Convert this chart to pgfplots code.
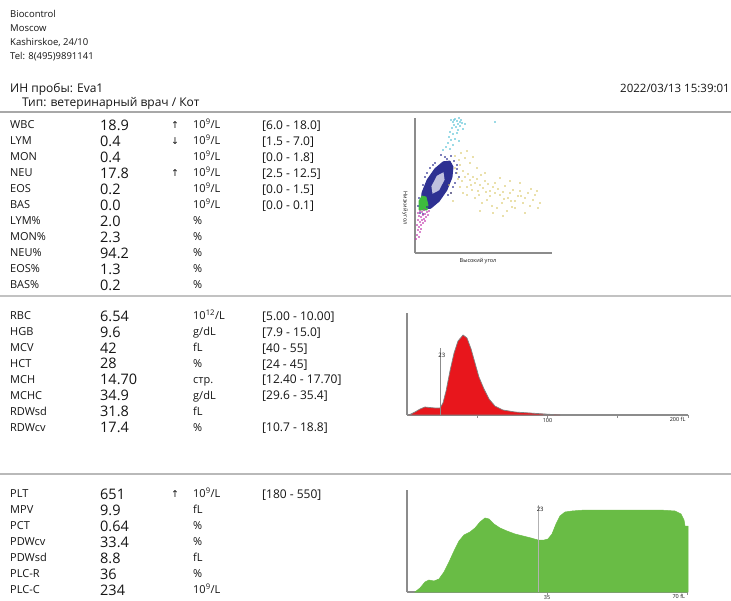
\documentclass[border=0pt]{standalone}
\usepackage{pgfplots}
\pgfplotsset{compat=1.18}
\usepackage{fontspec}
\setmainfont{Open Sans}
\newfontfamily\arr{DejaVu Sans}
\definecolor{axgray}{HTML}{8C8C8C}
\definecolor{sep}{HTML}{A8A8A8}
\definecolor{rbcred}{HTML}{E8161C}
\definecolor{pltgreen}{HTML}{69BC45}
\definecolor{scblue}{HTML}{2E3192}
\definecolor{sccyan}{HTML}{5CC4D8}
\definecolor{scyellow}{HTML}{D8C45C}
\definecolor{scmag}{HTML}{C23AAE}
\definecolor{scgreen}{HTML}{3DBB3D}
\definecolor{txt}{HTML}{151515}
\newcommand{\T}[4]{\node[anchor=base west,inner sep=0pt,text=txt,font=#3] at ({#1*1pt},{-(#2)*1pt}) {#4};}
\newcommand{\fhd}{\fontsize{9.5}{11}\selectfont}
\newcommand{\fid}{\fontsize{12}{14}\selectfont}
\newcommand{\fdt}{\fontsize{11.5}{13}\selectfont}
\newcommand{\flb}{\fontsize{11}{13}\selectfont}
\newcommand{\fvl}{\fontsize{14.5}{16}\selectfont}
\newcommand{\frg}{\fontsize{12}{14}\selectfont}
\newcommand{\far}{\arr\fontsize{9.5}{10}\selectfont}
% row macro: y-center, label, value, arrow, unit, range
\newcommand{\R}[6]{%
  \T{10}{#1+3.9}{\flb}{#2}%
  \T{100}{#1+5.2}{\fvl}{#3}%
  \T{171}{#1+3.4}{\far}{#4}%
  \T{193}{#1+3.9}{\flb}{#5}%
  \T{262}{#1+4.3}{\frg}{#6}}
\newcommand{\gL}{10\textsuperscript{9}/L}
\begin{document}
\begin{tikzpicture}[x=1pt,y=1pt]
\useasboundingbox (0,0) rectangle (731,-600);
\fill[white] (0,0) rectangle (731,-600);
% header
\T{10}{17.4}{\fhd}{Biocontrol}
\T{10}{31.4}{\fhd}{Moscow}
\T{10}{45.4}{\fhd}{Kashirskoe, 24/10}
\T{10}{59.4}{\fhd}{Tel: 8(495)9891141}
\T{10}{92.2}{\fid}{ИН пробы: Eva1}
\node[anchor=base east,inner sep=0pt,text=txt,font=\fdt] at (730pt,-92pt) {2022/03/13 15:39:01};
\T{22}{106.2}{\fid}{Тип: ветеринарный врач / Кот}
% separators
\draw[sep, line width=2pt] (0,-111.5) -- (731,-111.5);
\draw[sep!70, line width=1.5pt] (0,-296) -- (731,-296);
\draw[sep!80, line width=1.8pt] (0,-474) -- (731,-474);
% WBC block
\R{125}{WBC}{18.9}{↑}{\gL}{[6.0 - 18.0]}
\R{141}{LYM}{0.4}{↓}{\gL}{[1.5 - 7.0]}
\R{157}{MON}{0.4}{}{\gL}{[0.0 - 1.8]}
\R{173}{NEU}{17.8}{↑}{\gL}{[2.5 - 12.5]}
\R{189}{EOS}{0.2}{}{\gL}{[0.0 - 1.5]}
\R{205}{BAS}{0.0}{}{\gL}{[0.0 - 0.1]}
\R{221}{LYM\%}{2.0}{}{\%}{}
\R{237}{MON\%}{2.3}{}{\%}{}
\R{253}{NEU\%}{94.2}{}{\%}{}
\R{269}{EOS\%}{1.3}{}{\%}{}
\R{285}{BAS\%}{0.2}{}{\%}{}
% RBC block
\R{316}{RBC}{6.54}{}{10\textsuperscript{12}/L}{[5.00 - 10.00]}
\R{331.9}{HGB}{9.6}{}{g/dL}{[7.9 - 15.0]}
\R{347.8}{MCV}{42}{}{fL}{[40 - 55]}
\R{363.7}{HCT}{28}{}{\%}{[24 - 45]}
\R{379.6}{MCH}{14.70}{}{стр.}{[12.40 - 17.70]}
\R{395.5}{MCHC}{34.9}{}{g/dL}{[29.6 - 35.4]}
\R{411.4}{RDWsd}{31.8}{}{fL}{}
\R{427.3}{RDWcv}{17.4}{}{\%}{[10.7 - 18.8]}
% PLT block
\R{494}{PLT}{651}{↑}{\gL}{[180 - 550]}
\R{510}{MPV}{9.9}{}{fL}{}
\R{526}{PCT}{0.64}{}{\%}{}
\R{542}{PDWcv}{33.4}{}{\%}{}
\R{558}{PDWsd}{8.8}{}{fL}{}
\R{574}{PLC-R}{36}{}{\%}{}
\R{590}{PLC-C}{234}{}{\gL}{}

% ---------- scatter ----------
\begin{axis}[at={(415pt,-253pt)}, anchor=south west, scale only axis,
  width=137pt, height=135pt, xmin=0, xmax=137, ymin=0, ymax=135,
  axis x line=bottom, axis y line=left,
  axis line style={-, draw=axgray, line width=1.3pt}, ticks=none, clip=false]
% yellow
\addplot[only marks, mark=*, mark size=0.6pt, color=scyellow, opacity=0.8] coordinates {
(40,85)(45,88)(42,80)(48,82)(50,76)(53,79)(47,72)(55,73)(58,76)(60,70)(62,74)(65,68)
(52,66)(57,63)(63,62)(68,65)(70,72)(73,69)(75,62)(78,66)(80,60)(83,64)(85,58)(88,61)
(90,67)(93,55)(95,60)(98,63)(100,52)(103,57)(105,62)(108,50)(110,55)(113,60)(115,47)
(118,53)(120,58)(123,45)(60,55)(67,50)(72,53)(77,47)(82,45)(87,50)(92,42)(97,46)
(55,90)(62,85)(70,80)(50,95)(58,96)(44,93)(85,75)(95,72)(105,70)(65,42)(78,40)(88,37)
(110,40)(125,50)(36,60)(38,52)(34,68)(48,60)(52,58)(45,66)(43,74)(66,78)(75,57)(80,70)
(100,45)(106,57)(116,64)(122,62)(96,52)(89,54)(71,61)(64,58)(56,68)(46,100)(52,102)(40,97)
};
% cyan
\addplot[only marks, mark=*, mark size=0.65pt, color=sccyan] coordinates {
(36,133)(38,131)(40,134)(42,132)(44,135)(46,133)(39,128)(43,129)(47,130)(41,126)(45,127)
(37,125)(35,121)(38,119)(42,120)(34,116)(36,113)(40,114)(33,110)(38,108)(31,106)(44,112)
(48,124)(50,129)(80,131)(28,103)(35,104)(43,123)(39,133)(45,131)
};
% blue cluster
\addplot[fill=scblue, draw=scblue, line width=1pt] coordinates {
(34.9,91.9)(28.3,91.2)(20.0,84.3)(12.2,73.1)(7.1,60.5)(6.0,49.9)(9.1,44.1)
(15.7,44.8)(24.0,51.7)(31.8,62.9)(36.9,75.6)(38.0,86.1)(34.9,91.9)};
\addplot[fill=white!70!scblue, draw=none] coordinates {
(28.5,80.7)(21.9,77.3)(16.4,66.7)(17.5,59.3)(24.1,62.7)(29.6,73.3)(28.5,80.7)};
\addplot[only marks, mark=*, mark size=0.65pt, color=scblue] coordinates {
(5,40)(8,39)(39,92)(42,88)(30,96)(36,97)(41,80)(44,76)(12,80)(15,85)(3,47)(33,58)
(38,66)(26,98)(20,90)(10,76)(40,70)(8,68)(4,55)(42,84)(32,94)(18,88)(36,60)(12,46)
};
% magenta
\addplot[only marks, mark=*, mark size=0.7pt, color=scmag] coordinates {
(3,40)(5,42)(7,41)(9,43)(4,37)(6,36)(8,38)(10,39)(12,41)(3,33)(5,31)(7,33)(9,34)
(11,36)(2,28)(4,26)(6,28)(8,30)(3,23)(5,21)(2,18)(4,16)(13,38)(14,42)(1,14)(6,24)(10,32)
};
% green
\addplot[fill=scgreen, draw=scgreen, line width=0.8pt] coordinates {
(4,43)(4,52)(7,57)(11,56)(13,48)(12,43)(4,43)};
\node[font=\fontsize{5.5}{6}\selectfont, text=txt] at (axis cs:63,-8.5) {Высокий угол};
\node[font=\fontsize{5.5}{6}\selectfont, text=txt, rotate=-90] at (axis cs:-10,45) {Низкий угол};
\end{axis}

% ---------- RBC histogram ----------
\begin{axis}[at={(407pt,-415pt)}, anchor=south west, scale only axis,
  width=281pt, height=102pt, xmin=0, xmax=200, ymin=0, ymax=102,
  axis x line=bottom, axis y line=left,
  axis line style={-, draw=axgray, line width=1.2pt},
  ytick=\empty, xtick={50,100,150,200}, xticklabels={,100,,},
  tick align=outside, major tick length=2.5pt, tick style={axgray, line width=0.6pt},
  xticklabel style={font=\fontsize{5.5}{6}\selectfont, text=txt, inner sep=1pt},
  clip=false]
\addplot[fill=rbcred, draw=gray, line width=0.7pt] coordinates {
(1.4,0)(5.7,3)(9.3,6)(12.8,8)(16.4,7.5)(19.9,7)(23.5,7)(25.6,12)(27.8,24)(30.6,44)
(33.5,62)(36.3,74)(39.9,80)(42.7,77)(45.6,66)(48.4,52)(51.2,38)(54.8,26)(58.4,16)
(62.6,9)(68.3,5)(76.9,3)(87.5,2)(98.2,1)(108.9,0)} \closedcycle;
\addplot[draw=axgray, line width=0.9pt] coordinates {(23.5,0)(23.5,67)};
\node[anchor=west, font=\fontsize{6}{7}\selectfont, text=txt, inner sep=0pt] at (axis cs:22.2,59.5) {23};
\node[anchor=north east, font=\fontsize{5.5}{6}\selectfont, text=txt, inner sep=1pt] at (axis cs:199,-1.5) {200 fL};
\end{axis}

% ---------- PLT histogram ----------
\begin{axis}[at={(407pt,-592pt)}, anchor=south west, scale only axis,
  width=281pt, height=102pt, xmin=0, xmax=70.25, ymin=0, ymax=102,
  axis x line=bottom, axis y line=left,
  axis line style={-, draw=axgray, line width=1.2pt},
  ytick=\empty, xtick={35,70}, xticklabels={35,},
  tick align=outside, major tick length=2.5pt, tick style={axgray, line width=0.6pt},
  xticklabel style={font=\fontsize{5.5}{6}\selectfont, text=txt, inner sep=1pt},
  clip=false]
\addplot[fill=pltgreen, draw=pltgreen, line width=0.5pt] coordinates {
(2,0)(3.25,4)(4.5,10)(5.5,12)(6.75,11)(8,13)(9.25,20)(10.5,30)(11.75,41)(13,51)
(14.25,57)(15.75,60)(17,64)(18.25,70)(19.5,74)(20.5,73)(21.75,68)(23.25,64)(25,61)
(27,58)(29,56)(31,54)(32.75,52)(34.25,52)(35.25,53)(36.25,58)(37.25,68)(38.25,76)
(39.5,80)(41.25,81)(44.5,82)(53.25,82)(63.25,82)(67,81)(68.5,78)(69.25,72)(69.5,66)
(70.25,66)(70.25,0)} \closedcycle;
\addplot[draw=gray!60, line width=0.9pt] coordinates {(32.75,0)(32.75,87)};
\node[anchor=west, font=\fontsize{6}{7}\selectfont, text=txt, inner sep=0pt] at (axis cs:32.4,83) {23};
\node[anchor=north east, font=\fontsize{5.5}{6}\selectfont, text=txt, inner sep=1pt] at (axis cs:69.8,-1.5) {70 fL};
\end{axis}
\end{tikzpicture}
\end{document}
